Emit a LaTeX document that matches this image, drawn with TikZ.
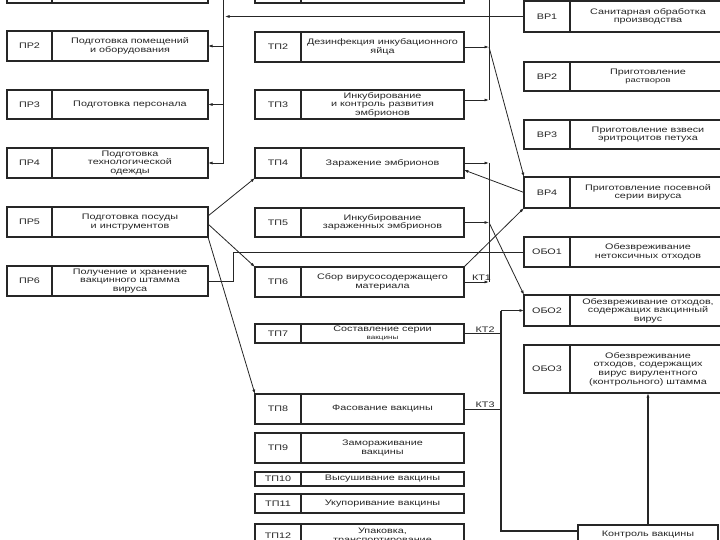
\documentclass[tikz,border=0pt]{standalone}
\usepackage{fontspec}
\setmainfont{Liberation Sans}[FakeStretch=1.35]
\usetikzlibrary{arrows.meta,calc}
\tikzset{
 cellbox/.style={draw=black!85, line width=1.2pt, inner sep=0pt, outer sep=0pt,
   font=\fontsize{8}{8.6}\selectfont, align=center, text=black!85},
 codecell/.style={cellbox},
 txtcell/.style={cellbox},
 divline/.style={line width=1.7pt, draw=black!85},
 conn/.style={line width=0.8pt, draw=black!85},
 arr/.style={conn, -{Latex[length=4.5pt,width=3pt]}},
 heavy/.style={line width=1.8pt},
 kt/.style={font=\fontsize{8}{8}\selectfont, above, inner sep=1pt, text=black!85}
}
\newcommand{\blk}[8]{%
 \node[codecell, minimum width={(#3-#2)*1pt}, minimum height={(#6-#5)*1pt}] (#1c) at ({(#2+#3)/2},{(#5+#6)/2}) {#7};
 \node[txtcell, minimum width={(#4-#3)*1pt}, minimum height={(#6-#5)*1pt}] (#1) at ({(#3+#4)/2},{(#5+#6)/2}) {#8};
 \draw[divline] (#1c.north east) -- (#1c.south east);
}
\begin{document}
\begin{tikzpicture}[x=1pt,y=-1pt]
\useasboundingbox (0,0) rectangle (720,540);
\clip (0,0) rectangle (720,540);
\fill[white] (0,0) rectangle (720,540);
% left column
\blk{pr1}{7}{52}{208}{-27}{3}{}{}
\blk{pr2}{7}{52}{208}{31}{61}{ПР2}{Подготовка помещений\\и оборудования}
\blk{pr3}{7}{52}{208}{90}{119}{ПР3}{Подготовка персонала}
\blk{pr4}{7}{52}{208}{148}{178}{ПР4}{Подготовка\\технологической\\одежды}
\blk{pr5}{7}{52}{208}{207}{237}{ПР5}{Подготовка посуды\\и инструментов}
\blk{pr6}{7}{52}{208}{266}{296}{ПР6}{Получение и хранение\\вакцинного штамма\\вируса}
% middle column
\blk{tp1}{255}{301}{464}{-27}{3}{}{}
\blk{tp2}{255}{301}{464}{32}{62}{ТП2}{Дезинфекция инкубационного\\яйца}
\blk{tp3}{255}{301}{464}{90}{119}{ТП3}{Инкубирование\\и контроль развития\\эмбрионов}
\blk{tp4}{255}{301}{464}{148}{178}{ТП4}{Заражение эмбрионов}
\blk{tp5}{255}{301}{464}{208}{237}{ТП5}{Инкубирование\\зараженных эмбрионов}
\blk{tp6}{255}{301}{464}{267}{297}{ТП6}{Сбор вирусосодержащего\\материала}
\blk{tp7}{255}{301}{464}{324}{343}{ТП7}{Составление серии\\{\fontsize{6}{6.5}\selectfont вакцины}}
\blk{tp8}{255}{301}{464}{394}{424}{ТП8}{Фасование вакцины}
\blk{tp9}{255}{301}{464}{433}{463}{ТП9}{Замораживание\\вакцины}
\blk{tp10}{255}{301}{464}{472}{486}{ТП10}{Высушивание вакцины}
\blk{tp11}{255}{301}{464}{494}{513}{ТП11}{Укупоривание вакцины}
\blk{tp12}{255}{301}{464}{524}{548}{ТП12}{Упаковка,\\транспортирование}
% right column
\blk{vr1}{524}{570}{726}{1}{32}{ВР1}{Санитарная обработка\\производства}
\blk{vr2}{524}{570}{726}{62}{91}{ВР2}{Приготовление\\{\fontsize{7}{7.5}\selectfont растворов}}
\blk{vr3}{524}{570}{726}{120}{149}{ВР3}{Приготовление взвеси\\эритроцитов петуха}
\blk{vr4}{524}{570}{726}{177}{208}{ВР4}{Приготовление посевной\\серии вируса}
\blk{obo1}{524}{570}{726}{237}{267}{ОБО1}{Обезвреживание\\нетоксичных отходов}
\blk{obo2}{524}{570}{726}{295}{326}{ОБО2}{Обезвреживание отходов,\\содержащих вакцинный\\вирус}
\blk{obo3}{524}{570}{726}{345}{393}{ОБО3}{Обезвреживание\\отходов, содержащих\\вирус вирулентного\\(контрольного) штамма}
\node[cellbox, minimum width=140pt, minimum height=20pt] (ctrl) at (648,535) {Контроль вакцины};
% left bus
\coordinate (busL) at (223,-5);
\draw[arr] (busL) -- (busL |- pr4.east) -- (pr4.east);
\draw[arr] (busL |- pr2.east) -- (pr2.east);
\draw[arr] (busL |- pr3.east) -- (pr3.east);
\draw[arr, shorten >=2pt] (vr1c.west) -- (busL |- vr1c.west);
% right bus (upper)
\coordinate (busR) at (489,-5);
\coordinate (t3) at ($(tp3.east)+(0,-4.5)$);
\draw[conn] (busR) -- (busR |- t3);
\draw[arr] (tp2.east) -- (busR |- tp2.east);
\draw[arr] (t3) -- (busR |- t3);
\draw[arr] (busR |- tp2.east) -- (vr4c.north west);
% right bus (middle)
\draw[conn] (busR |- tp4.east) -- (busR |- tp6.east);
\draw[arr] (tp4.east) -- (busR |- tp4.east);
\draw[arr] (tp5.east) -- (busR |- tp5.east);
\draw[arr] (tp6.east) -- node[kt, pos=0.7] {КТ1} (busR |- tp6.east);
\draw[arr] (busR |- tp5.east) -- (obo2c.north west);
\draw[arr] (vr4c.west) -- ($(tp4.east)+(0,7)$);
\draw[arr] (tp6.north east) -- (vr4c.south west);
% ПР6 -> ОБО1
\coordinate (k6) at (233,0);
\draw[conn] (pr6.east) -- (k6 |- pr6.east) -- (k6 |- obo1c.west) -- (obo1c.west);
% ПР5 arrows
\draw[arr] ($(pr5.east)+(0,-6)$) -- (tp4c.south west);
\draw[arr] ($(pr5.east)+(0,2)$) -- (tp6c.north west);
\draw[arr] (pr5.south east) -- (tp8c.north west);
% control bus
\coordinate (busK) at (501,0);
\coordinate (kb) at ($(ctrl.north west)+(0,6)$);
\draw[conn, heavy] (busK |- obo2c.west) -- (busK |- kb) -- (kb);
\draw[arr] (busK |- obo2c.west) -- (obo2c.west);
\draw[conn] (tp7.east) -- node[kt, pos=0.57] {КТ2} (busK |- tp7.east);
\draw[conn] (tp8.east) -- node[kt, pos=0.57] {КТ3} (busK |- tp8.east);
\draw[arr, heavy] (ctrl.north) -- (ctrl.north |- obo3c.south);
\end{tikzpicture}
\end{document}
